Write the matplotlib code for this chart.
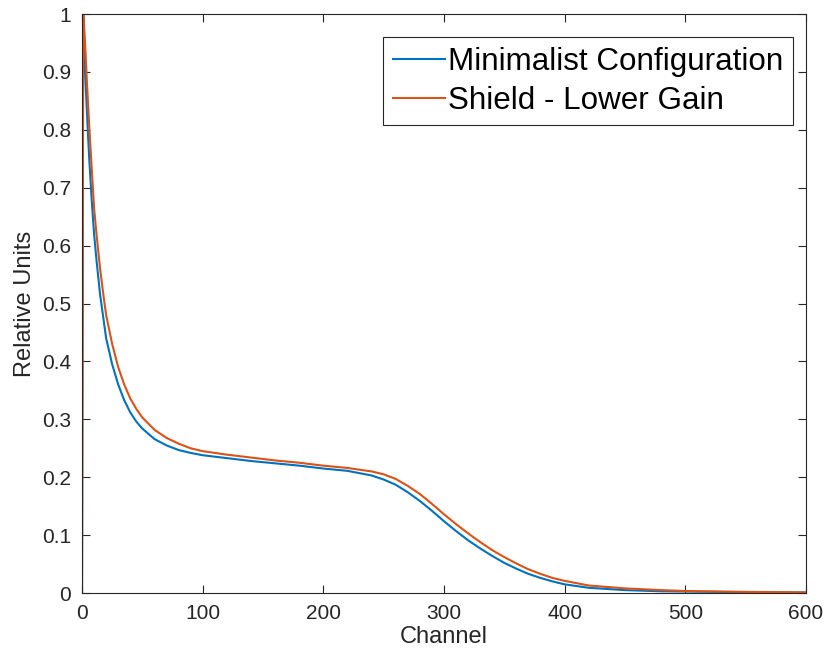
import numpy as np
import matplotlib
matplotlib.use("Agg")
import matplotlib.pyplot as plt

plt.rcParams['font.family'] = ['Liberation Sans', 'DejaVu Sans']

# channel positions
channel = [0, 1, 2, 3, 4, 5, 6, 7, 8, 10, 12, 15, 18, 20, 25, 30, 35, 40, 45, 50,
           60, 70, 80, 90, 100, 120, 140, 160, 180, 200, 220, 240, 250, 260, 270,
           280, 290, 300, 310, 320, 330, 340, 350, 360, 370, 380, 390, 400, 420,
           450, 480, 500, 550, 600]

minimalist = [0, 1.0, 0.93, 0.88, 0.835, 0.79, 0.75, 0.715, 0.68, 0.62, 0.575,
              0.515, 0.47, 0.44, 0.395, 0.36, 0.333, 0.312, 0.296, 0.284, 0.266,
              0.255, 0.247, 0.242, 0.238, 0.233, 0.228, 0.224, 0.22, 0.215, 0.211,
              0.203, 0.196, 0.187, 0.174, 0.159, 0.142, 0.124, 0.107, 0.091, 0.077,
              0.064, 0.052, 0.042, 0.033, 0.026, 0.02, 0.015, 0.009, 0.005, 0.003,
              0.0025, 0.0015, 0.001]

shield = [0, 1.0, 0.97, 0.93, 0.885, 0.845, 0.805, 0.77, 0.735, 0.665, 0.62,
          0.56, 0.51, 0.48, 0.43, 0.39, 0.36, 0.336, 0.318, 0.303, 0.282, 0.268,
          0.258, 0.25, 0.245, 0.239, 0.234, 0.229, 0.225, 0.22, 0.216, 0.21,
          0.205, 0.197, 0.185, 0.171, 0.154, 0.136, 0.119, 0.103, 0.088, 0.074,
          0.062, 0.051, 0.041, 0.033, 0.026, 0.021, 0.013, 0.008, 0.005, 0.0035,
          0.002, 0.001]

labels = ["Minimalist Configuration", "Shield - Lower Gain"]
xticks = [0, 100, 200, 300, 400, 500, 600]
yticks = [0, 0.1, 0.2, 0.3, 0.4, 0.5, 0.6, 0.7, 0.8, 0.9, 1]
ytick_labels = ["0", "0.1", "0.2", "0.3", "0.4", "0.5", "0.6", "0.7", "0.8", "0.9", "1"]

dark = "#262626"

fig = plt.figure(figsize=(8.36, 6.64), dpi=100)
ax = fig.add_axes([0.0981, 0.1069, 0.8660, 0.8720])

ax.plot(channel, minimalist, color="#0072BD", lw=1.5, label=labels[0])
ax.plot(channel, shield, color="#D95319", lw=1.5, label=labels[1])

ax.set_xlim(0, 600)
ax.set_ylim(0, 1)
ax.set_xticks(xticks)
ax.set_yticks(yticks)
ax.set_yticklabels(ytick_labels)
ax.tick_params(direction="in", length=6, width=0.8, colors=dark, labelsize=15,
               top=True, right=True, pad=8)
for s in ax.spines.values():
    s.set_color(dark)
    s.set_linewidth(0.8)

ax.set_xlabel("Channel", fontsize=17, color=dark, labelpad=2)
ax.set_ylabel("Relative Units", fontsize=17, color=dark, labelpad=4)

leg = ax.legend(loc="upper right", fontsize=22.6, fancybox=False, framealpha=1,
                edgecolor=dark, handlelength=1.65, handletextpad=0.12,
                borderpad=0.3, labelspacing=0.3, borderaxespad=0.0,
                bbox_to_anchor=(0.982, 0.96))
leg.get_frame().set_linewidth(0.8)

fig.savefig("out.png", dpi=100)
